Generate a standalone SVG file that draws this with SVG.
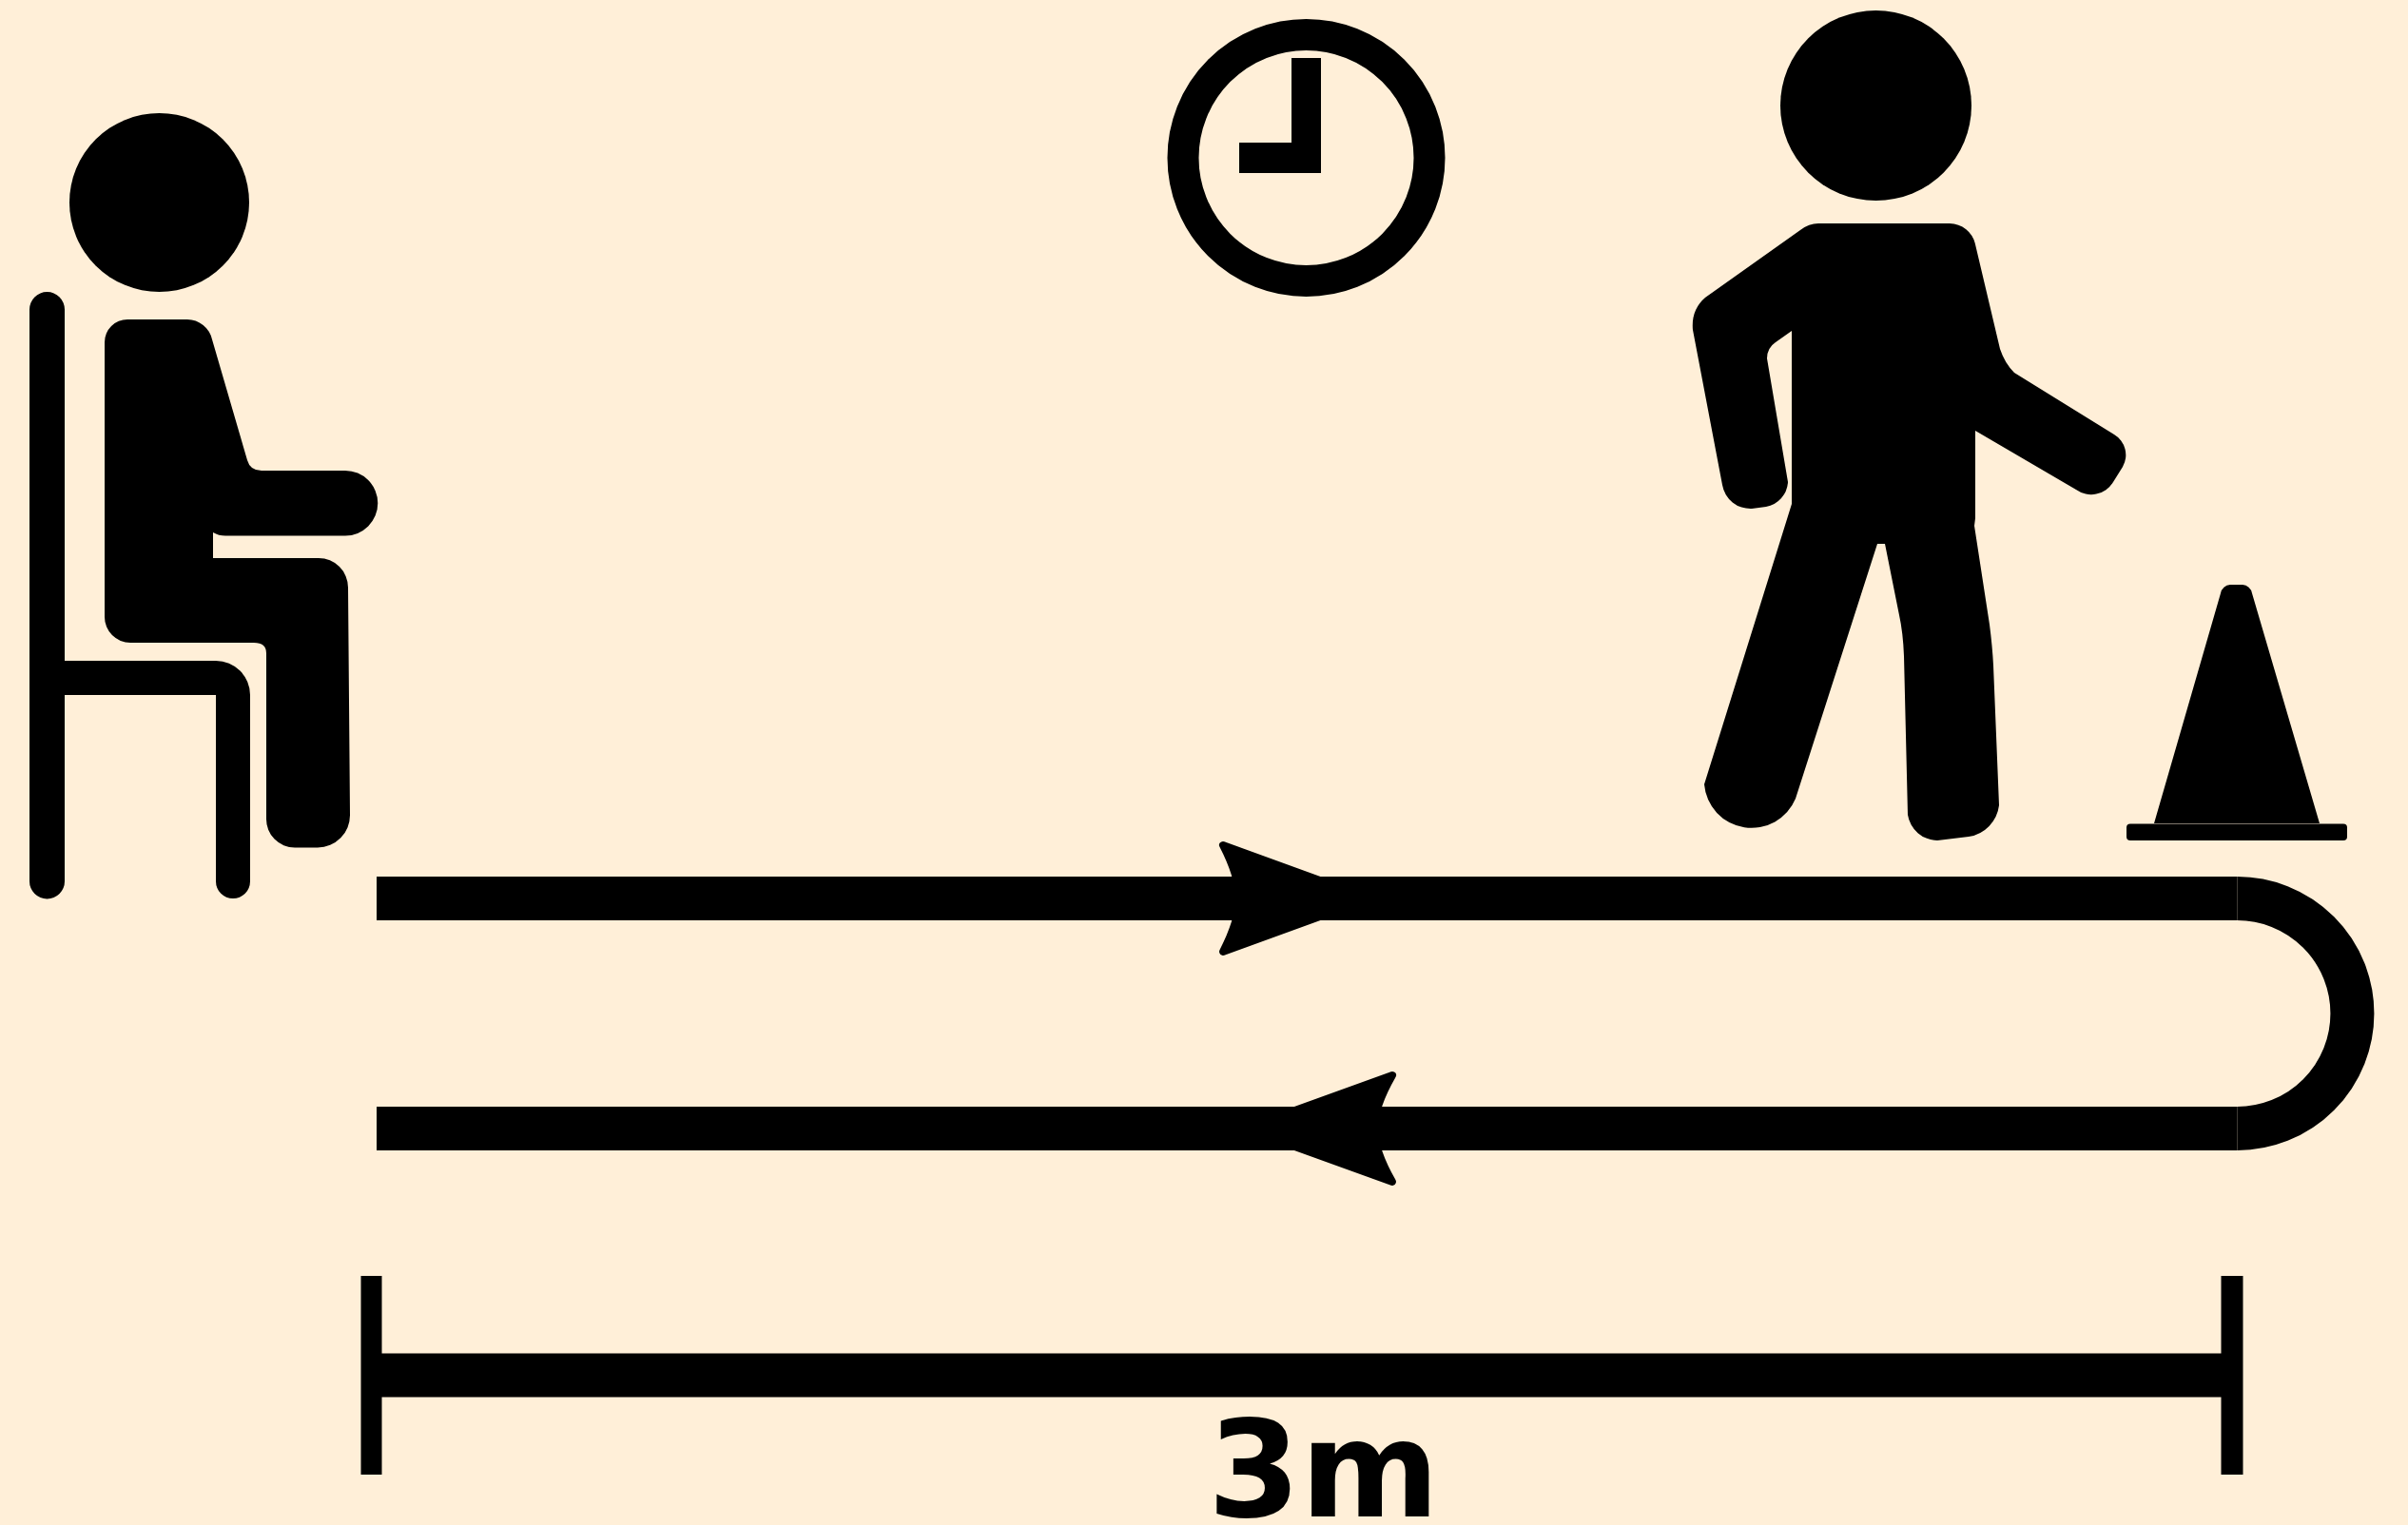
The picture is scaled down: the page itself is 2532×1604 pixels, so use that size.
<svg xmlns="http://www.w3.org/2000/svg" width="2532" height="1604" viewBox="0 0 2532 1604">
<style>
.k{fill:#000}
.ln{fill:none;stroke:#000;stroke-width:46}
.ar{fill:#000;stroke:#000;stroke-width:8;stroke-linejoin:round}
.t{font-family:"DejaVu Sans",sans-serif;font-weight:700;font-size:140px;fill:#000}
</style>
<rect width="2532" height="1604" fill="#FFEFD8"/>
<g id="seated-person">
<ellipse class="k" cx="167.500" cy="213" rx="94.500" ry="94"/>
<path class="k" d="M134 336H197A27 27 0 0 1 223 357L260 484Q263 495 275 495H363A34 34 0 0 1 363 563.500H237Q230 563.500 224 560V587H335A31 31 0 0 1 366 618L368 857A34 34 0 0 1 334 891.500H310A30 30 0 0 1 280 861V687Q280 676 267 676H137A27 27 0 0 1 110 649V360A24 24 0 0 1 134 336Z"/>
</g>
<g id="chair">
<path class="k" d="M49.500 307A18.500 18.500 0 0 1 68 325.500V695H227A36 36 0 0 1 263 731V927A18 18 0 0 1 227 927V731H68V927A18.500 18.500 0 0 1 31 927V325.500A18.500 18.500 0 0 1 49.500 307Z"/>
</g>
<g id="clock">
<circle cx="1373.500" cy="166" r="129.500" fill="none" stroke="#000" stroke-width="33"/>
<path class="k" d="M1358 61H1389V182H1303V150H1358Z"/>
</g>
<g id="walking-person">
<ellipse class="k" cx="1972.500" cy="111" rx="100.500" ry="100"/>
<path class="k" d="M1912 235H2050A28 28 0 0 1 2077 257L2103 367Q2108 382 2118 392L2223 457A25 25 0 0 1 2232 491L2222 507A27 27 0 0 1 2183 515L2077 453V545L2076 553L2092 657Q2095 680 2096 700L2102 847A38 38 0 0 1 2070 880L2037 884A32 32 0 0 1 2006 857L2002 690Q2001 665 1997 647L1982 572H1974L1888 840A50 50 0 0 1 1792 825L1884 530V348L1867 360Q1858 366 1858 377L1880 507A28 28 0 0 1 1857 533L1842 535A30 30 0 0 1 1811 510L1780 347Q1778 326 1793 313L1893 242Q1902 235 1912 235Z"/>
</g>
<g id="cone">
<path class="k" d="M2345 615H2358A11 11 0 0 1 2368 624L2439 866H2265L2335 624A11 11 0 0 1 2345 615Z"/>
<rect class="k" x="2236" y="866.500" width="232" height="17.500" rx="4"/>
</g>
<g id="connectors">
<path class="ln" d="M396 945H2352.500"/>
<path class="ln" d="M2352.500 945A121 121 0 0 1 2352.500 1187"/>
<path class="ln" d="M2352.500 1187H396"/>
<path class="ar" d="M1286 889L1440 945L1286 1001Q1303 968 1303 945Q1303 922 1286 889Z"/>
<path class="ar" d="M1464 1131L1309 1187L1464 1243Q1445 1210 1445 1187Q1445 1164 1464 1131Z"/>
<path class="ln" d="M390.500 1446.500H2347"/>
<rect class="k" x="379.500" y="1342" width="22" height="209"/>
<rect class="k" x="2335.500" y="1342" width="23" height="209"/>
</g>
<text class="t" x="1270" y="1595">3m</text>
</svg>
